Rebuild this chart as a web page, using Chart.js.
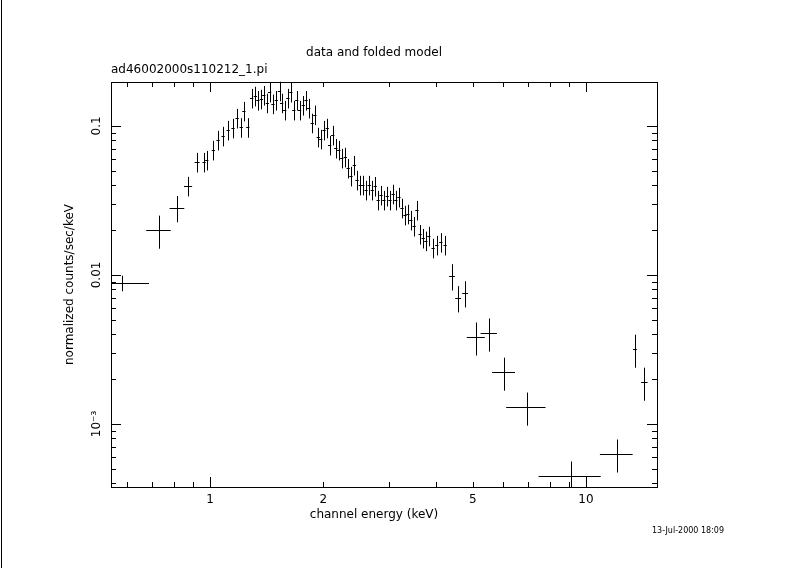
<!DOCTYPE html>
<html><head><meta charset="utf-8">
<script src="https://cdn.jsdelivr.net/npm/chart.js@4"></script>
<style>html,body{margin:0;background:#fff}#wrap{width:790px;height:582px}</style>
</head><body><div id="wrap"><canvas id="c"></canvas></div>
<script>
// channel energy (keV) and normalized counts/sec/keV
const energy = [0.583,0.731,0.817,0.874,0.924,0.964,0.98,1.02,1.05,1.083,1.117,1.151,1.18,1.21,1.23,1.26,1.29,1.32,1.34,1.37,1.39,1.42,1.44,1.47,1.50,1.53,1.55,1.58,1.61,1.64,1.67,1.70,1.73,1.77,1.80,1.83,1.87,1.90,1.94,1.97,2.01,2.05,2.08,2.12,2.16,2.20,2.24,2.29,2.33,2.37,2.42,2.46,2.51,2.55,2.60,2.65,2.70,2.75,2.80,2.85,2.90,2.96,3.01,3.07,3.12,3.18,3.24,3.30,3.36,3.42,3.49,3.55,3.62,3.69,3.75,3.82,3.92,4.01,4.11,4.22,4.40,4.57,4.77,5.10,5.52,6.05,6.97,9.12,12.1,13.5,14.3];
const counts = [0.00883,0.0200,0.0282,0.0396,0.0573,0.0573,0.0591,0.069,0.0805,0.0857,0.094,0.097,0.113,0.098,0.126,0.098,0.154,0.159,0.149,0.152,0.161,0.143,0.169,0.141,0.149,0.172,0.143,0.128,0.154,0.169,0.128,0.149,0.128,0.138,0.149,0.132,0.105,0.119,0.0844,0.0818,0.094,0.097,0.0745,0.087,0.0711,0.0690,0.061,0.0620,0.0522,0.0462,0.0547,0.0434,0.0402,0.0402,0.0372,0.0402,0.0372,0.0395,0.0319,0.0344,0.0319,0.0339,0.0319,0.035,0.0319,0.0334,0.0282,0.0253,0.0257,0.0234,0.0213,0.0273,0.0188,0.0177,0.0170,0.0183,0.0152,0.0159,0.0166,0.0159,0.00984,0.00701,0.00757,0.00384,0.00408,0.00223,0.0013,0.000448,0.00063,0.00318,0.00191];
// relative half-widths of the channel bins
const energyLo = [0.065,0.075,0.045,0.025,0.015,
  0.01,0.01,0.01,0.01,0.01,0.01,0.01,0.01,0.01,0.01,
  0.01,0.01,0.01,0.01,0.01,0.01,0.01,0.01,0.01,0.01,
  0.01,0.01,0.01,0.01,0.01,0.01,0.01,0.01,0.01,0.01,
  0.01,0.01,0.01,0.01,0.01,0.01,0.01,0.01,0.01,0.01,
  0.01,0.01,0.01,0.01,0.01,0.01,0.01,0.01,0.01,0.01,
  0.01,0.01,0.01,0.01,0.01,0.01,0.01,0.01,0.01,0.01,
  0.01,0.01,0.01,0.01,0.01,0.01,0.01,0.01,0.01,0.01,
  0.01,0.01,0.01,0.01,0.01,
  0.018,0.018,0.018,0.055,0.05,0.07,0.12,0.18,0.1,0.012,0.02];
const energyHi = [0.18,0.075,0.045,0.025,0.015,
  0.01,0.01,0.01,0.01,0.01,0.01,0.01,0.01,0.01,0.01,
  0.01,0.01,0.01,0.01,0.01,0.01,0.01,0.01,0.01,0.01,
  0.01,0.01,0.01,0.01,0.01,0.01,0.01,0.01,0.01,0.01,
  0.01,0.01,0.01,0.01,0.01,0.01,0.01,0.01,0.01,0.01,
  0.01,0.01,0.01,0.01,0.01,0.01,0.01,0.01,0.01,0.01,
  0.01,0.01,0.01,0.01,0.01,0.01,0.01,0.01,0.01,0.01,
  0.01,0.01,0.01,0.01,0.01,0.01,0.01,0.01,0.01,0.01,
  0.01,0.01,0.01,0.01,0.01,
  0.018,0.018,0.018,0.055,0.05,0.07,0.12,0.2,0.1,0.012,0.02];
// relative 1-sigma count errors
const countsErr = [0.12,0.25,0.2,0.15,0.15,
  0.15,0.15,0.15,0.15,0.15,0.15,0.15,0.15,0.15,0.15,
  0.15,0.15,0.15,0.15,0.15,0.15,0.15,0.15,0.15,0.15,
  0.15,0.15,0.15,0.15,0.15,0.15,0.15,0.15,0.15,0.15,
  0.15,0.15,0.15,0.15,0.15,0.15,0.15,0.15,0.15,0.15,
  0.15,0.15,0.15,0.15,0.15,0.15,0.15,0.15,0.15,0.15,
  0.15,0.15,0.15,0.15,0.15,0.15,0.15,0.15,0.15,0.15,
  0.15,0.15,0.15,0.15,0.15,0.15,0.15,0.15,0.15,0.15,
  0.15,0.15,0.15,0.15,0.15,
  0.2,0.2,0.2,0.25,0.25,0.25,0.25,0.25,0.25,0.25,0.25];
const xTicks = [1, 2, 5, 10];
const yTicks = [0.1, 0.01, 0.001];
const yTickLabels = ['0.1', '0.01', '10⁻³'];

const font = '12px "DejaVu Sans"';

const xspec = {
  id: 'xspec',
  afterDraw(chart) {
    const { ctx, chartArea: a, scales: { x, y } } = chart;
    ctx.save();
    ctx.strokeStyle = '#000';
    ctx.fillStyle = '#000';
    ctx.lineWidth = 1;
    // frame
    ctx.strokeRect(a.left + 0.5, a.top + 0.5, a.right - a.left, a.bottom - a.top);
    ctx.beginPath(); ctx.moveTo(1.5, 0); ctx.lineTo(1.5, 568); ctx.stroke();
    // x ticks
    ctx.beginPath();
    for (let d = 0.1; d <= 10; d *= 10) {
      for (let m = 1; m < 10; m++) {
        const v = d * m;
        if (v < x.min || v > x.max) continue;
        const px = Math.round(x.getPixelForValue(v)) + 0.5;
        const len = m === 1 ? 10 : 5;
        ctx.moveTo(px, a.bottom); ctx.lineTo(px, a.bottom - len);
        ctx.moveTo(px, a.top); ctx.lineTo(px, a.top + len);
      }
    }
    // y ticks
    for (let d = 0.0001; d <= 0.1; d *= 10) {
      for (let m = 1; m < 10; m++) {
        const v = d * m;
        if (v < y.min || v > y.max) continue;
        const py = Math.round(y.getPixelForValue(v)) + 0.5;
        const len = m === 1 ? 10 : 5;
        ctx.moveTo(a.left, py); ctx.lineTo(a.left + len, py);
        ctx.moveTo(a.right, py); ctx.lineTo(a.right - len, py);
      }
    }
    ctx.stroke();
    ctx.font = font;
    ctx.textAlign = 'center';
    ctx.textBaseline = 'top';
    xTicks.forEach(v => ctx.fillText(String(v), x.getPixelForValue(v), a.bottom + 7));
    yTicks.forEach((v, i) => {
      ctx.save();
      ctx.translate(a.left - 8, y.getPixelForValue(v));
      ctx.rotate(-Math.PI / 2);
      ctx.textBaseline = 'bottom';
      ctx.fillText(yTickLabels[i], 0, 0);
      ctx.restore();
    });
    // error bars
    ctx.beginPath();
    energy.forEach((e, i) => {
      const px = x.getPixelForValue(e), py = y.getPixelForValue(counts[i]);
      const x0 = x.getPixelForValue(e * (1 - energyLo[i])), x1 = x.getPixelForValue(e * (1 + energyHi[i]));
      const y0 = y.getPixelForValue(counts[i] * (1 - countsErr[i])), y1 = y.getPixelForValue(counts[i] * (1 + countsErr[i]));
      ctx.moveTo(Math.max(x0, a.left), Math.round(py) + 0.5); ctx.lineTo(Math.min(x1, a.right), Math.round(py) + 0.5);
      ctx.moveTo(Math.round(px) + 0.5, Math.min(y0, a.bottom)); ctx.lineTo(Math.round(px) + 0.5, y1);
    });
    ctx.stroke();
    // texts
    ctx.fillText('data and folded model', (a.left + a.right) / 2 - 10, 47);
    ctx.textAlign = 'left';
    ctx.fillText('ad46002000s110212_1.pi', a.left, 64);
    ctx.textAlign = 'center';
    ctx.fillText('channel energy (keV)', (a.left + a.right) / 2 - 10, 509);
    ctx.save();
    ctx.translate(70, (a.top + a.bottom) / 2);
    ctx.rotate(-Math.PI / 2);
    ctx.textBaseline = 'middle';
    ctx.fillText('normalized counts/sec/keV', 0, 0);
    ctx.restore();
    ctx.font = '8px "DejaVu Sans"';
    ctx.fillText('13-Jul-2000 18:09', 688, 527);
    ctx.restore();
  }
};

new Chart(document.getElementById('c'), {
  type: 'scatter',
  data: { datasets: [{ data: energy.map((e, i) => ({ x: e, y: counts[i] })), pointRadius: 0 }] },
  options: {
    responsive: true,
    maintainAspectRatio: false,
    animation: false,
    devicePixelRatio: 1,
    layout: { padding: { left: 111, right: 133, top: 82, bottom: 95 } },
    plugins: { legend: { display: false }, tooltip: { enabled: false } },
    scales: {
      x: { type: 'logarithmic', min: 0.545, max: 15.45, display: false },
      y: { type: 'logarithmic', min: 0.000378, max: 0.197, display: false }
    }
  },
  plugins: [xspec]
});
</script></body></html>
